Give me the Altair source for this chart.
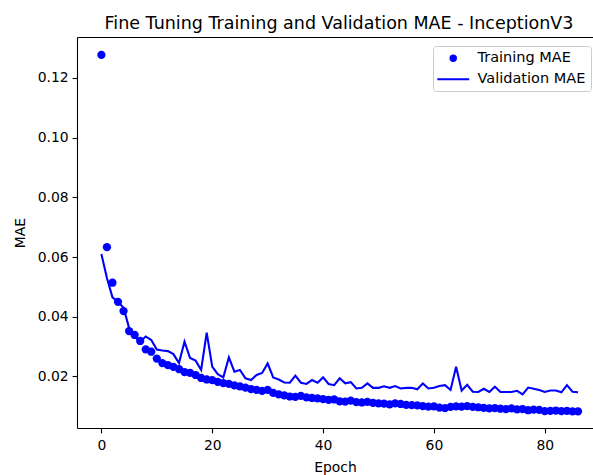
import altair as alt
import pandas as pd

epochs = list(range(87))

train_mae = [
    0.1277, 0.0633, 0.0514, 0.0450, 0.0419, 0.0352, 0.0339, 0.0319, 0.0291, 0.0283,
    0.0260, 0.0245, 0.0238, 0.0232, 0.0225, 0.0215, 0.0212, 0.0205, 0.0195, 0.0190,
    0.0188, 0.0182, 0.0178, 0.0175, 0.0170, 0.0167, 0.0163, 0.0158, 0.0155, 0.0152,
    0.0155, 0.0145, 0.0140, 0.0137, 0.0133, 0.0132, 0.0135, 0.0130, 0.0128, 0.0127,
    0.0124, 0.0122, 0.0123, 0.0117, 0.0116, 0.0119, 0.0114, 0.0113, 0.0115, 0.0112,
    0.0110, 0.0109, 0.0107, 0.0110, 0.0108, 0.0105, 0.0104, 0.0103, 0.0101, 0.0099,
    0.0100, 0.0096, 0.0094, 0.0098, 0.0100, 0.0099, 0.0101, 0.0098, 0.0097, 0.0095,
    0.0093, 0.0094, 0.0092, 0.0091, 0.0093, 0.0090, 0.0091, 0.0087, 0.0089, 0.0088,
    0.0084, 0.0085, 0.0086, 0.0084, 0.0085, 0.0083, 0.0083,
]

val_mae = [
    0.0610, 0.0530, 0.0465, 0.0450, 0.0430, 0.0362, 0.0333, 0.0317, 0.0334, 0.0322,
    0.0290, 0.0287, 0.0285, 0.0275, 0.0245, 0.0317, 0.0262, 0.0253, 0.0222, 0.0347,
    0.0233, 0.0208, 0.0197, 0.0264, 0.0216, 0.0222, 0.0194, 0.0188, 0.0205, 0.0212,
    0.0244, 0.0197, 0.0190, 0.0180, 0.0179, 0.0203, 0.0179, 0.0175, 0.0188, 0.0179,
    0.0197, 0.0175, 0.0171, 0.0194, 0.0177, 0.0181, 0.0160, 0.0162, 0.0177, 0.0162,
    0.0162, 0.0167, 0.0162, 0.0168, 0.0160, 0.0162, 0.0162, 0.0157, 0.0177, 0.0160,
    0.0162, 0.0168, 0.0171, 0.0155, 0.0233, 0.0153, 0.0172, 0.0149, 0.0148, 0.0159,
    0.0148, 0.0166, 0.0148, 0.0148, 0.0148, 0.0152, 0.0140, 0.0163, 0.0159, 0.0155,
    0.0148, 0.0153, 0.0153, 0.0147, 0.0171, 0.0149, 0.0147,
]

series_names = ["Training MAE", "Validation MAE"]
x_ticks = [0, 20, 40, 60, 80]
y_ticks = [0.02, 0.04, 0.06, 0.08, 0.10, 0.12]

train_df = pd.DataFrame({"epoch": epochs, "mae": train_mae, "series": series_names[0]})
val_df = pd.DataFrame({"epoch": epochs, "mae": val_mae, "series": series_names[1]})

FONT = "DejaVu Sans"
x_scale = alt.Scale(domain=[-4.4, 88.7], nice=False, zero=False)
y_scale = alt.Scale(domain=[0.00275, 0.1337], nice=False, zero=False)

axis_common = dict(
    labelFont=FONT, labelFontSize=13.9, labelColor="black",
    titleFont=FONT, titleFontSize=13.9, titleFontWeight="normal", titleColor="black",
    tickColor="black", tickSize=4.9, tickWidth=1.1,
    domainColor="black", domainWidth=1.1, grid=False,
)

points = alt.Chart(train_df).mark_point(
    filled=True, size=68, opacity=1, color="blue"
).encode(
    x=alt.X("epoch:Q", scale=x_scale,
            axis=alt.Axis(values=x_ticks, format="d", title="Epoch", titlePadding=8,
                          labelPadding=6, **axis_common)),
    y=alt.Y("mae:Q", scale=y_scale,
            axis=alt.Axis(values=y_ticks, format=".2f", title="MAE", titlePadding=10,
                          labelPadding=4, **axis_common)),
    shape=alt.Shape(
        "series:N",
        scale=alt.Scale(domain=series_names,
                        range=["circle", "M-4.3,-0.3H4.3V0.3H-4.3Z"]),
        legend=alt.Legend(
            title=None, orient="none", legendX=356, legendY=9,
            labelFont=FONT, labelFontSize=14.5, labelColor="black",
            symbolSize=55, symbolStrokeWidth=0,
            symbolFillColor="blue", symbolOffset=8, labelOffset=17,
            padding=5, rowPadding=6, strokeColor="#cccccc",
            fillColor="rgba(255,255,255,0.8)", cornerRadius=3,
        ),
    ),
)

line = alt.Chart(val_df).mark_line(color="blue", strokeWidth=2.1).encode(
    x=alt.X("epoch:Q", scale=x_scale,
            axis=alt.Axis(orient="top", labels=False, ticks=False, title=None,
                          domainColor="black", domainWidth=1.1, grid=False)),
    y=alt.Y("mae:Q", scale=y_scale),
)

chart = alt.layer(points, line).resolve_axis(x="independent").properties(
    width=516, height=391,
    autosize=alt.AutoSizeParams(type="none"),
    padding={"left": 77, "top": 37, "right": 0, "bottom": 47},
    title=alt.TitleParams(
        "Fine Tuning Training and Validation MAE - InceptionV3",
        font=FONT, fontSize=17.5, fontWeight="normal", color="black",
        anchor="middle", baseline="alphabetic", offset=8.5, dx=4, dy=17.5,
    ),
).configure_view(stroke=None).configure(background="white")

chart.save("out.html", embed_options={"renderer": "svg", "actions": False})
